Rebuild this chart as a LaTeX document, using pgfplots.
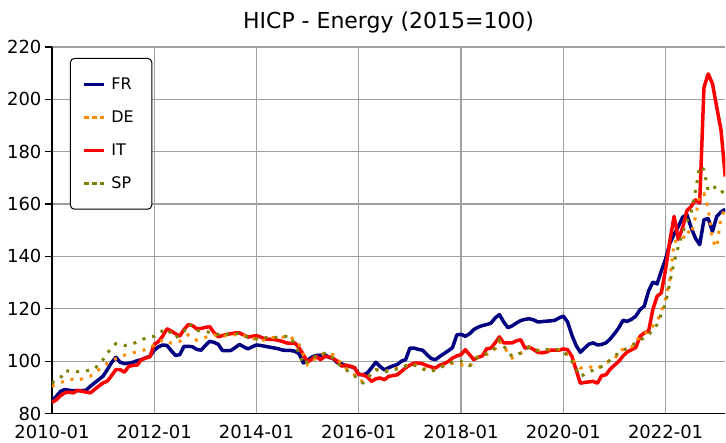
\documentclass[border=0pt]{standalone}
\usepackage{fontspec}
\setmainfont{DejaVu Sans}
\usepackage{pgfplots}
\pgfplotsset{compat=1.18}
\definecolor{frblue}{RGB}{0,0,128}
\definecolor{deorange}{RGB}{255,140,0}
\definecolor{itred}{RGB}{255,0,0}
\definecolor{spolive}{RGB}{128,128,0}
\definecolor{gridgray}{RGB}{160,160,160}
\begin{document}
\begin{tikzpicture}
\begin{axis}[
name=ax, scale only axis, width=674pt, height=367pt,
xmin=0, xmax=158, ymin=80, ymax=220,
xtick={0,24,...,144},
xticklabels={2010-01,2012-01,2014-01,2016-01,2018-01,2020-01,2022-01},
ytick={80,100,...,220},
grid=major, major grid style={color=gridgray, line width=1.2pt},
axis x line*=bottom, axis y line*=left,
axis line style={black, line width=1.5pt, -},
tick align=outside, major tick length=7pt,
xtick style={draw=none}, ytick style={black, line width=1.2pt},
ticklabel style={font=\fontsize{18}{20}\selectfont},
xticklabel style={yshift=-1pt},
/pgf/number format/assume math mode=true,
title={HICP - Energy (2015=100)},
title style={font=\fontsize{22}{24}\selectfont, at={(0.5,1)}, anchor=south, yshift=4pt},
legend style={at={(0.0267,0.970)}, anchor=north west, draw=black, line width=1pt,
  rounded corners=4pt, font=\fontsize{16}{18}\selectfont,
  inner xsep=12pt, inner ysep=17pt, row sep=16pt,
  nodes={inner xsep=6pt}},
legend cell align=left,
legend image code/.code={\draw[#1] (0pt,0pt) -- (20pt,0pt);},
]
\addlegendimage{frblue, line width=3pt}\addlegendentry{FR}
\addlegendimage{deorange, line width=3pt, dash pattern=on 5pt off 3pt}\addlegendentry{DE}
\addlegendimage{itred, line width=3pt}\addlegendentry{IT}
\addlegendimage{spolive, line width=3pt, dash pattern=on 5pt off 3pt}\addlegendentry{SP}

% FR
\addplot[forget plot, frblue, line width=3.5pt, line join=round] coordinates {
(0,85.0)(1,86.5)(2,88.5)(3,89.2)(4,88.9)(5,88.7)(6,88.8)(7,88.8)(8,88.9)(9,90.4)
(10,91.7)(11,93.0)(12,94.3)(13,96.8)(14,99.5)(15,101.5)(16,99.6)(17,99.1)(18,99.2)(19,99.6)
(20,100.2)(21,100.6)(22,101.3)(23,101.9)(24,104.2)(25,105.5)(26,106.2)(27,106.0)(28,104.0)(29,102.2)
(30,102.5)(31,105.7)(32,105.7)(33,105.5)(34,104.5)(35,104.2)(36,106.0)(37,107.6)(38,107.2)(39,106.5)
(40,104.1)(41,104.0)(42,104.1)(43,105.2)(44,106.4)(45,105.5)(46,104.7)(47,105.5)(48,106.2)(49,106.0)
(50,105.7)(51,105.4)(52,105.1)(53,104.8)(54,104.3)(55,104.1)(56,104.1)(57,103.8)(58,102.8)(59,99.3)
(60,100.4)(61,101.6)(62,102.2)(63,102.3)(64,102.5)(65,101.5)(66,101.0)(67,99.4)(68,99.0)(69,98.1)
(70,98.0)(71,97.5)(72,95.0)(73,94.8)(74,95.5)(75,97.5)(76,99.6)(77,98.0)(78,96.7)(79,97.5)
(80,98.2)(81,98.7)(82,100.0)(83,100.6)(84,105.0)(85,105.0)(86,104.5)(87,104.2)(88,102.5)(89,101.0)
(90,100.6)(91,101.8)(92,102.9)(93,104.0)(94,105.2)(95,110.0)(96,110.3)(97,109.5)(98,110.5)(99,112.1)
(100,113.0)(101,113.6)(102,114.0)(103,114.5)(104,116.5)(105,117.8)(106,115.0)(107,112.8)(108,113.5)(109,114.6)
(110,115.5)(111,116.0)(112,116.2)(113,115.8)(114,115.0)(115,115.1)(116,115.3)(117,115.4)(118,115.6)(119,116.5)
(120,117.2)(121,115.0)(122,110.0)(123,106.0)(124,103.4)(125,105.0)(126,106.5)(127,107.0)(128,106.2)(129,106.4)
(130,107.0)(131,108.5)(132,110.5)(133,112.7)(134,115.6)(135,115.2)(136,116.0)(137,117.2)(138,119.7)(139,121.0)
(140,126.8)(141,130.2)(142,129.5)(143,134.5)(144,139.0)(145,145.0)(146,148.5)(147,151.5)(148,155.0)(149,156.0)
(150,151.0)(151,147.0)(152,144.5)(153,154.0)(154,154.5)(155,149.5)(156,155.3)(157,157.0)(158,158.0)
};
% IT
\addplot[forget plot, itred, line width=3.5pt, line join=round] coordinates {
(0,84.3)(1,85.2)(2,86.8)(3,87.9)(4,88.2)(5,87.9)(6,88.9)(7,88.5)(8,88.2)(9,87.9)
(10,89.2)(11,90.5)(12,91.7)(13,92.4)(14,94.5)(15,96.8)(16,96.8)(17,95.8)(18,98.0)(19,98.4)
(20,98.5)(21,100.6)(22,101.2)(23,101.7)(24,106.4)(25,107.5)(26,109.6)(27,112.4)(28,111.5)(29,110.5)
(30,109.6)(31,112.1)(32,114.0)(33,113.6)(34,112.3)(35,112.5)(36,112.9)(37,113.2)(38,111.0)(39,109.3)
(40,109.8)(41,110.2)(42,110.5)(43,110.8)(44,110.8)(45,110.0)(46,109.2)(47,109.5)(48,109.8)(49,109.2)
(50,108.5)(51,108.4)(52,108.3)(53,108.0)(54,107.6)(55,107.0)(56,106.8)(57,107.0)(58,105.1)(59,102.5)
(60,99.6)(61,100.8)(62,101.9)(63,100.6)(64,101.7)(65,101.7)(66,101.0)(67,100.0)(68,98.1)(69,98.5)
(70,98.1)(71,97.5)(72,94.9)(73,94.8)(74,94.0)(75,92.3)(76,93.3)(77,93.6)(78,92.9)(79,94.2)
(80,94.5)(81,94.8)(82,96.1)(83,97.5)(84,98.5)(85,99.3)(86,99.3)(87,99.0)(88,98.3)(89,97.8)
(90,97.4)(91,98.5)(92,99.0)(93,99.9)(94,101.2)(95,102.0)(96,102.5)(97,104.4)(98,102.5)(99,100.6)
(100,101.5)(101,102.0)(102,104.7)(103,105.0)(104,107.0)(105,109.3)(106,107.0)(107,107.0)(108,107.0)(109,107.8)
(110,108.2)(111,105.0)(112,105.4)(113,104.5)(114,103.4)(115,103.2)(116,103.5)(117,104.2)(118,104.2)(119,104.2)
(120,104.7)(121,104.4)(122,101.9)(123,96.7)(124,91.6)(125,91.9)(126,92.1)(127,92.3)(128,91.6)(129,94.5)
(130,94.8)(131,97.0)(132,98.5)(133,99.9)(134,102.0)(135,103.5)(136,104.4)(137,105.2)(138,109.5)(139,110.8)
(140,111.4)(141,119.7)(142,124.8)(143,126.1)(144,135.1)(145,146.0)(146,155.3)(147,146.5)(148,151.0)(149,157.5)
(150,159.1)(151,161.6)(152,160.4)(153,204.5)(154,209.7)(155,206.0)(156,197.0)(157,188.3)(158,170.5)
};
% DE
\addplot[forget plot, deorange, line width=3pt, dash pattern=on 3pt off 7pt] coordinates {
(0,90.4)(1,91.2)(2,91.7)(3,92.5)(4,93.2)(5,93.0)(6,92.6)(7,93.2)(8,93.8)(9,94.3)
(10,95.5)(11,96.8)(12,98.0)(13,99.2)(14,100.0)(15,101.0)(16,101.9)(17,102.3)(18,102.8)(19,103.2)
(20,103.6)(21,104.0)(22,104.5)(23,105.0)(24,106.3)(25,107.0)(26,108.2)(27,107.5)(28,106.9)(29,107.2)
(30,107.6)(31,109.0)(32,110.1)(33,109.0)(34,108.0)(35,108.5)(36,109.1)(37,109.6)(38,110.1)(39,109.5)
(40,109.5)(41,109.8)(42,110.1)(43,110.1)(44,110.1)(45,109.8)(46,109.5)(47,108.8)(48,108.2)(49,107.6)
(50,108.2)(51,108.9)(52,109.0)(53,109.1)(54,109.2)(55,109.4)(56,109.5)(57,107.5)(58,106.3)(59,102.5)
(60,98.7)(61,100.0)(62,101.2)(63,102.2)(64,103.1)(65,102.8)(66,102.5)(67,100.5)(68,99.3)(69,97.4)
(70,96.0)(71,94.8)(72,92.8)(73,92.3)(74,93.6)(75,95.2)(76,96.8)(77,96.5)(78,96.1)(79,96.5)
(80,97.0)(81,97.2)(82,97.4)(83,98.2)(84,99.0)(85,98.7)(86,98.3)(87,97.5)(88,96.5)(89,96.1)
(90,96.8)(91,97.4)(92,98.2)(93,99.0)(94,99.2)(95,99.3)(96,98.7)(97,98.3)(98,98.0)(99,100.0)
(100,101.8)(101,102.2)(102,102.5)(103,103.5)(104,104.7)(105,107.6)(106,105.4)(107,103.5)(108,101.2)(109,102.0)
(110,103.1)(111,104.2)(112,105.4)(113,104.8)(114,104.1)(115,104.2)(116,104.4)(117,104.4)(118,104.4)(119,104.4)
(120,103.8)(121,102.5)(122,100.6)(123,99.0)(124,97.4)(125,97.7)(126,98.0)(127,97.5)(128,97.0)(129,98.5)
(130,99.5)(131,100.0)(132,100.6)(133,103.7)(134,104.5)(135,105.0)(136,105.4)(137,107.5)(138,109.5)(139,110.5)
(140,111.4)(141,113.5)(142,115.2)(143,119.0)(144,124.0)(145,131.0)(146,145.7)(147,146.0)(148,146.4)(149,150.0)
(150,148.3)(151,155.0)(152,163.5)(153,164.0)(154,158.4)(155,146.0)(156,143.5)(157,155.0)(158,158.0)
};
% SP
\addplot[forget plot, spolive, line width=3pt, dash pattern=on 3pt off 7pt] coordinates {
(0,91.7)(1,92.5)(2,93.5)(3,96.4)(4,96.2)(5,96.1)(6,96.0)(7,96.1)(8,96.3)(9,96.6)
(10,97.0)(11,99.0)(12,100.6)(13,103.1)(14,105.0)(15,106.7)(16,106.3)(17,106.0)(18,106.2)(19,106.6)
(20,107.5)(21,108.2)(22,108.8)(23,109.2)(24,109.5)(25,111.0)(26,111.5)(27,112.3)(28,110.5)(29,108.9)
(30,110.0)(31,111.4)(32,114.3)(33,113.5)(34,111.8)(35,111.5)(36,111.4)(37,111.0)(38,110.8)(39,110.2)
(40,109.7)(41,110.2)(42,110.8)(43,110.6)(44,110.4)(45,109.8)(46,109.2)(47,108.8)(48,108.5)(49,109.2)
(50,109.0)(51,108.9)(52,109.0)(53,109.2)(54,109.3)(55,109.5)(56,109.4)(57,106.3)(58,103.1)(59,98.7)
(60,100.0)(61,101.2)(62,102.0)(63,103.1)(64,103.0)(65,102.9)(66,101.0)(67,99.3)(68,98.0)(69,96.8)
(70,95.5)(71,94.5)(72,92.5)(73,91.7)(74,93.6)(75,95.2)(76,96.8)(77,96.3)(78,95.8)(79,96.3)
(80,96.8)(81,97.0)(82,97.4)(83,98.2)(84,99.0)(85,98.5)(86,98.0)(87,97.0)(88,96.5)(89,96.1)
(90,96.8)(91,97.4)(92,98.5)(93,99.3)(94,99.6)(95,100.0)(96,100.0)(97,99.0)(98,98.3)(99,100.0)
(100,101.8)(101,102.3)(102,102.9)(103,104.0)(104,105.0)(105,108.2)(106,105.9)(107,103.5)(108,101.8)(109,102.5)
(110,103.1)(111,104.3)(112,105.4)(113,104.8)(114,104.1)(115,104.2)(116,104.4)(117,104.4)(118,104.4)(119,104.4)
(120,103.8)(121,102.0)(122,99.9)(123,97.0)(124,94.2)(125,95.0)(126,96.0)(127,96.5)(128,97.0)(129,98.0)
(130,99.0)(131,100.5)(132,102.0)(133,103.0)(134,104.0)(135,105.0)(136,106.0)(137,107.0)(138,108.0)(139,109.0)
(140,110.0)(141,112.0)(142,114.0)(143,118.0)(144,122.0)(145,130.0)(146,138.0)(147,143.8)(148,149.0)(149,153.4)
(150,157.0)(151,165.0)(152,174.4)(153,173.1)(154,165.0)(155,166.0)(156,166.7)(157,165.4)(158,163.0)
};
\end{axis}
\path ([shift={(-52pt,-25pt)}]ax.south west) rectangle ([shift={(0pt,47pt)}]ax.north east);
\end{tikzpicture}
\end{document}
